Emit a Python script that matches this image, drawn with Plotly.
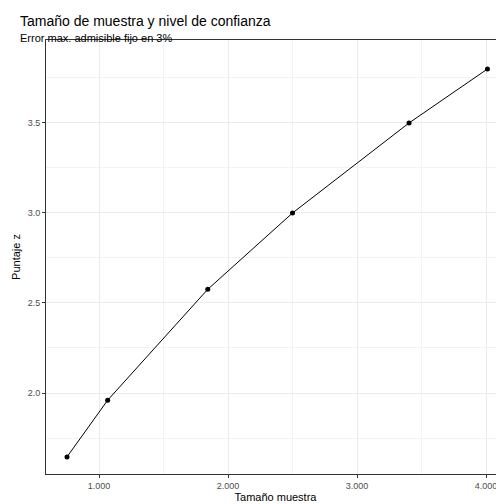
import plotly.graph_objects as go

tamano = [752, 1067, 1843, 2500, 3403, 4011]
puntaje_z = [1.645, 1.96, 2.576, 3.0, 3.5, 3.8]
x_ticks = [1000, 2000, 3000, 4000]
x_labels = ["1.000", "2.000", "3.000", "4.000"]
y_ticks = [2.0, 2.5, 3.0, 3.5]
y_labels = ["2.0", "2.5", "3.0", "3.5"]

fig = go.Figure(go.Scatter(x=tamano, y=puntaje_z, mode="lines+markers",
                           line=dict(color="black", width=1),
                           marker=dict(color="black", size=5)))

grid = "#ebebeb"
fig.update_layout(
    width=504, height=504,
    paper_bgcolor="white", plot_bgcolor="white",
    font=dict(family="Liberation Sans, Arial", color="black"),
    margin=dict(l=38, r=7, t=32, b=38, autoexpand=False),
    showlegend=False,
    annotations=[
        dict(text="Tamaño de muestra y nivel de confianza", xref="paper", yref="paper",
             x=-0.061, y=1.044, xanchor="left", yanchor="middle", showarrow=False,
             font=dict(size=14)),
        dict(text="Error max. admisible fijo en 3%", xref="paper", yref="paper",
             x=-0.061, y=1.005, xanchor="left", yanchor="middle", showarrow=False,
             font=dict(size=11)),
    ],
)
fig.update_xaxes(range=[589, 4147], tickvals=x_ticks, ticktext=x_labels, automargin=False,
                 showgrid=True, gridcolor=grid, gridwidth=1,
                 minor=dict(dtick=500, tick0=500, showgrid=True, gridcolor="#f3f3f3"),
                 showline=True, mirror=True, linecolor="#333333", linewidth=1,
                 ticks="outside", ticklen=3, tickcolor="#333333", zeroline=False,
                 tickfont=dict(size=9, color="#4d4d4d"),
                 title=dict(text="Tamaño muestra", font=dict(size=11), standoff=2))
fig.update_yaxes(range=[1.55, 3.961], tickvals=y_ticks, ticktext=y_labels, automargin=False,
                 showgrid=True, gridcolor=grid, gridwidth=1,
                 minor=dict(dtick=0.25, tick0=1.75, showgrid=True, gridcolor="#f3f3f3"),
                 showline=True, mirror=True, linecolor="#333333", linewidth=1,
                 ticks="outside", ticklen=3, tickcolor="#333333", zeroline=False,
                 tickfont=dict(size=9, color="#4d4d4d"),
                 title=dict(text="Puntaje z", font=dict(size=11), standoff=4))

fig.write_html("out.html")
